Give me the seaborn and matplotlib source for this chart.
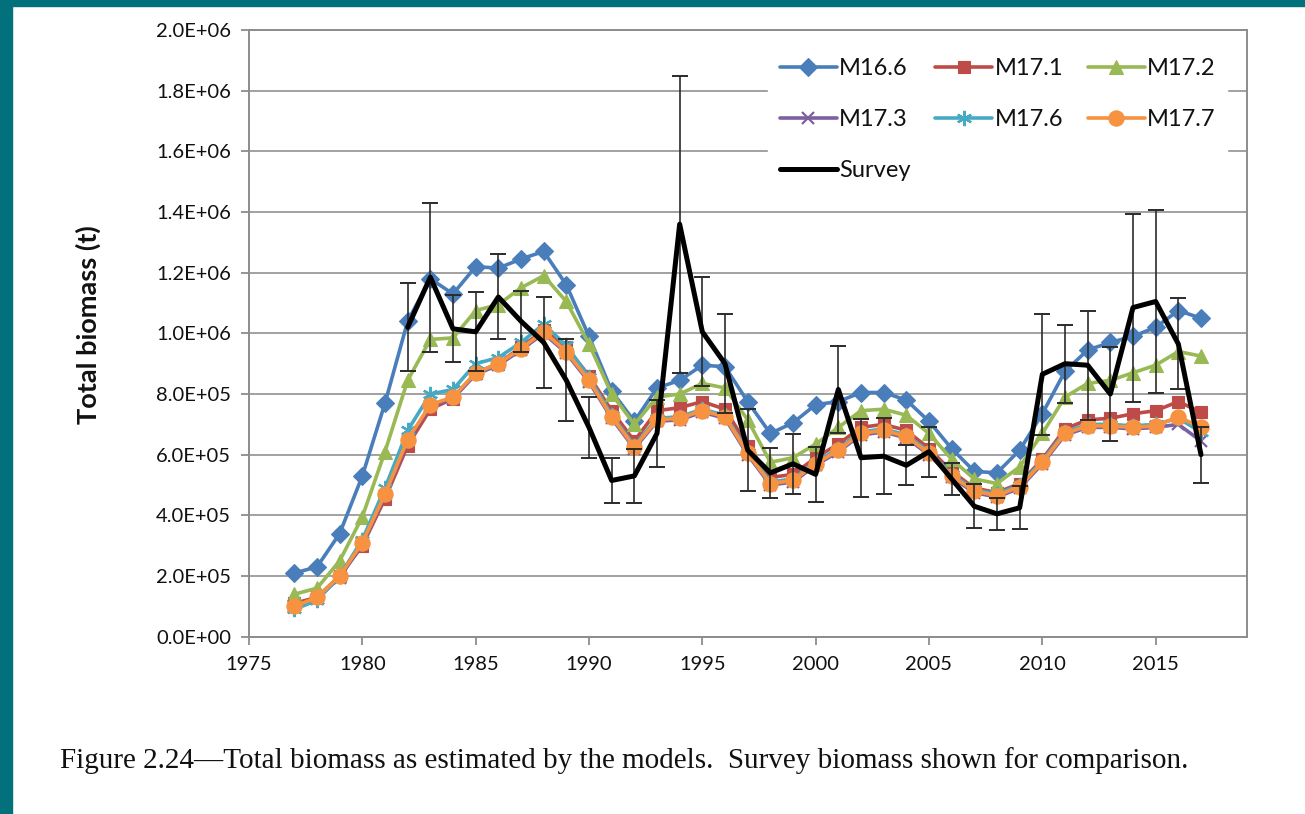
import numpy as np
import pandas as pd
import matplotlib
matplotlib.use("Agg")
import matplotlib.pyplot as plt
import seaborn as sns
from matplotlib.ticker import FuncFormatter, MultipleLocator

# ---------------- data (values in 1E+06 t) ----------------
years = list(range(1977, 2018))
m16_6 = [0.21, 0.23, 0.34, 0.53, 0.77, 1.04, 1.18, 1.13, 1.22, 1.215, 1.245, 1.27, 1.16, 0.99, 0.81,
         0.71, 0.82, 0.845, 0.895, 0.89, 0.775, 0.67, 0.705, 0.765, 0.775, 0.805, 0.805, 0.78, 0.71,
         0.62, 0.545, 0.54, 0.615, 0.735, 0.875, 0.945, 0.97, 0.99, 1.02, 1.075, 1.05]
m17_1 = [0.11, 0.13, 0.20, 0.30, 0.455, 0.63, 0.75, 0.785, 0.87, 0.90, 0.955, 1.01, 0.955, 0.86, 0.745,
         0.645, 0.745, 0.755, 0.775, 0.75, 0.63, 0.525, 0.535, 0.59, 0.635, 0.69, 0.70, 0.68, 0.62,
         0.545, 0.49, 0.475, 0.505, 0.585, 0.685, 0.715, 0.72, 0.735, 0.745, 0.775, 0.74]
m17_2 = [0.14, 0.16, 0.25, 0.395, 0.61, 0.845, 0.98, 0.985, 1.075, 1.095, 1.15, 1.19, 1.105, 0.965, 0.80,
         0.70, 0.79, 0.80, 0.835, 0.82, 0.715, 0.575, 0.59, 0.635, 0.69, 0.745, 0.75, 0.73, 0.67,
         0.585, 0.52, 0.505, 0.56, 0.67, 0.79, 0.835, 0.845, 0.87, 0.895, 0.94, 0.925]
m17_3 = [0.10, 0.125, 0.195, 0.305, 0.465, 0.645, 0.76, 0.785, 0.865, 0.895, 0.945, 1.0, 0.935, 0.84, 0.72,
         0.62, 0.71, 0.715, 0.74, 0.72, 0.60, 0.50, 0.51, 0.565, 0.61, 0.665, 0.675, 0.655, 0.60,
         0.525, 0.475, 0.46, 0.49, 0.57, 0.665, 0.69, 0.69, 0.685, 0.69, 0.70, 0.645]
m17_6 = [0.09, 0.12, 0.20, 0.32, 0.49, 0.68, 0.80, 0.815, 0.90, 0.92, 0.97, 1.03, 0.96, 0.855, 0.73,
         0.63, 0.72, 0.725, 0.75, 0.73, 0.61, 0.51, 0.52, 0.575, 0.62, 0.675, 0.685, 0.665, 0.61,
         0.535, 0.485, 0.47, 0.50, 0.58, 0.675, 0.70, 0.70, 0.695, 0.70, 0.72, 0.675]
m17_7 = [0.10, 0.13, 0.20, 0.31, 0.47, 0.65, 0.765, 0.79, 0.87, 0.90, 0.95, 1.005, 0.94, 0.845, 0.725,
         0.625, 0.715, 0.72, 0.745, 0.725, 0.605, 0.505, 0.515, 0.57, 0.615, 0.67, 0.68, 0.66, 0.605,
         0.53, 0.48, 0.465, 0.495, 0.575, 0.67, 0.695, 0.695, 0.69, 0.695, 0.725, 0.69]

survey_years = list(range(1982, 2018))
survey = [1.02, 1.185, 1.015, 1.005, 1.12, 1.04, 0.97, 0.845, 0.69, 0.515, 0.53, 0.67, 1.36, 1.005,
          0.90, 0.615, 0.54, 0.57, 0.535, 0.815, 0.59, 0.595, 0.565, 0.61, 0.52, 0.43, 0.405, 0.425,
          0.865, 0.90, 0.895, 0.80, 1.085, 1.105, 0.965, 0.60]
survey_err = [0.145, 0.245, 0.11, 0.13, 0.14, 0.10, 0.15, 0.135, 0.10, 0.075, 0.088, 0.11, 0.49, 0.18,
              0.164, 0.135, 0.083, 0.098, 0.09, 0.144, 0.128, 0.125, 0.066, 0.082, 0.053, 0.073, 0.053,
              0.071, 0.20, 0.128, 0.18, 0.154, 0.31, 0.30, 0.15, 0.092]

series_names = ["M16.6", "M17.1", "M17.2", "M17.3", "M17.6", "M17.7"]
series_vals = [m16_6, m17_1, m17_2, m17_3, m17_6, m17_7]
x_ticks = [1975, 1980, 1985, 1990, 1995, 2000, 2005, 2010, 2015]
y_label = "Total biomass (t)"
caption = ("Figure 2.24\u2014Total biomass as estimated by the models.  "
           "Survey biomass shown for comparison.")

# ---------------- styling ----------------
colors = ["#4a7ebb", "#be4b48", "#98b954", "#7d60a0", "#46aac5", "#f69240"]
markers = ["D", "s", "^", "x", (6, 2, 0), "o"]
msizes = [9.5, 8, 10.5, 9, 11, 11]

sns.set_theme(style="white")
plt.rcParams["font.family"] = ["Lato", "DejaVu Sans"]

fig = plt.figure(figsize=(13.05, 8.14), dpi=100)
fig.patch.set_facecolor("white")
# teal page frame (top and left bands)
fig.add_artist(plt.Rectangle((0, 1 - 6 / 814), 1, 6 / 814, transform=fig.transFigure,
                             color="#02717b", zorder=0))
fig.add_artist(plt.Rectangle((0, 0), 12 / 1305, 1, transform=fig.transFigure,
                             color="#02717b", zorder=0))

L, R, T, B = 249 / 1305, 1247 / 1305, 1 - 30 / 814, 1 - 636.7 / 814
ax = fig.add_axes([L, B, R - L, T - B])

scale = 1e6
for name, vals, c, m, ms in zip(series_names, series_vals, colors, markers, msizes):
    y = np.array(vals) * scale
    sns.lineplot(x=years, y=y, ax=ax, color=c, linewidth=2.6, marker=m, markersize=ms,
                 markeredgecolor=c, markerfacecolor=c,
                 markeredgewidth=1.6 if m in ("x", (6, 2, 0)) else 0.8,
                 label=name, zorder=3)

sv = np.array(survey) * scale
se = np.array(survey_err) * scale
ax.errorbar(survey_years, sv, yerr=se, fmt="none", ecolor="#2b2b2b", elinewidth=1.2,
            capsize=6, capthick=1.4, zorder=4)
sns.lineplot(x=survey_years, y=sv, ax=ax, color="black", linewidth=3.6, label="Survey", zorder=5)

ax.set_xlim(1975, 2019.03)
ax.set_ylim(0, 2.0e6)
ax.yaxis.set_major_locator(MultipleLocator(2e5))
ax.yaxis.set_major_formatter(FuncFormatter(lambda v, p: f"{v:.1E}"))
ax.set_xticks(x_ticks)
ax.set_xticklabels([str(t) for t in x_ticks])
ax.grid(axis="y", color="#9a9a9a", linewidth=1.3)
ax.grid(axis="x", visible=False)
ax.set_axisbelow(True)
for s in ax.spines.values():
    s.set_color("#8c8c8c")
    s.set_linewidth(1.4)
    s.set_visible(True)
ax.tick_params(axis="both", which="major", direction="out", length=6, width=1.3, color="#8c8c8c",
               labelsize=14.5, labelcolor="#111111", bottom=True, left=True)
ax.tick_params(axis="y", pad=7)
ax.tick_params(axis="x", pad=8)
ax.set_xlabel("")
ax.set_ylabel("")
fig.text(88 / 1305, 1 - 325 / 814, y_label, rotation=90, ha="center", va="center",
         fontsize=19.5, fontweight="bold", color="#111111")

handles, labels = ax.get_legend_handles_labels()
hmap = dict(zip(labels, handles))
order = ["M16.6", "M17.3", "Survey", "M17.1", "M17.6", "M17.2", "M17.7"]
leg = ax.legend([hmap[k] for k in order], order, loc="upper right",
                bbox_to_anchor=(0.992, 0.993), ncol=3,
                frameon=True, fancybox=False, framealpha=1.0, edgecolor="white", facecolor="white",
                fontsize=17, handlelength=2.4, handletextpad=0.1, columnspacing=1.05,
                labelspacing=1.27, borderpad=0.5)
for t in leg.get_texts():
    t.set_color("#111111")

fig.text(60 / 1305, 1 - 761 / 814, caption, ha="left", va="center", fontsize=21,
         family=["Liberation Serif", "DejaVu Serif"], color="#111111")

fig.savefig("out.png", dpi=100, facecolor="white")
